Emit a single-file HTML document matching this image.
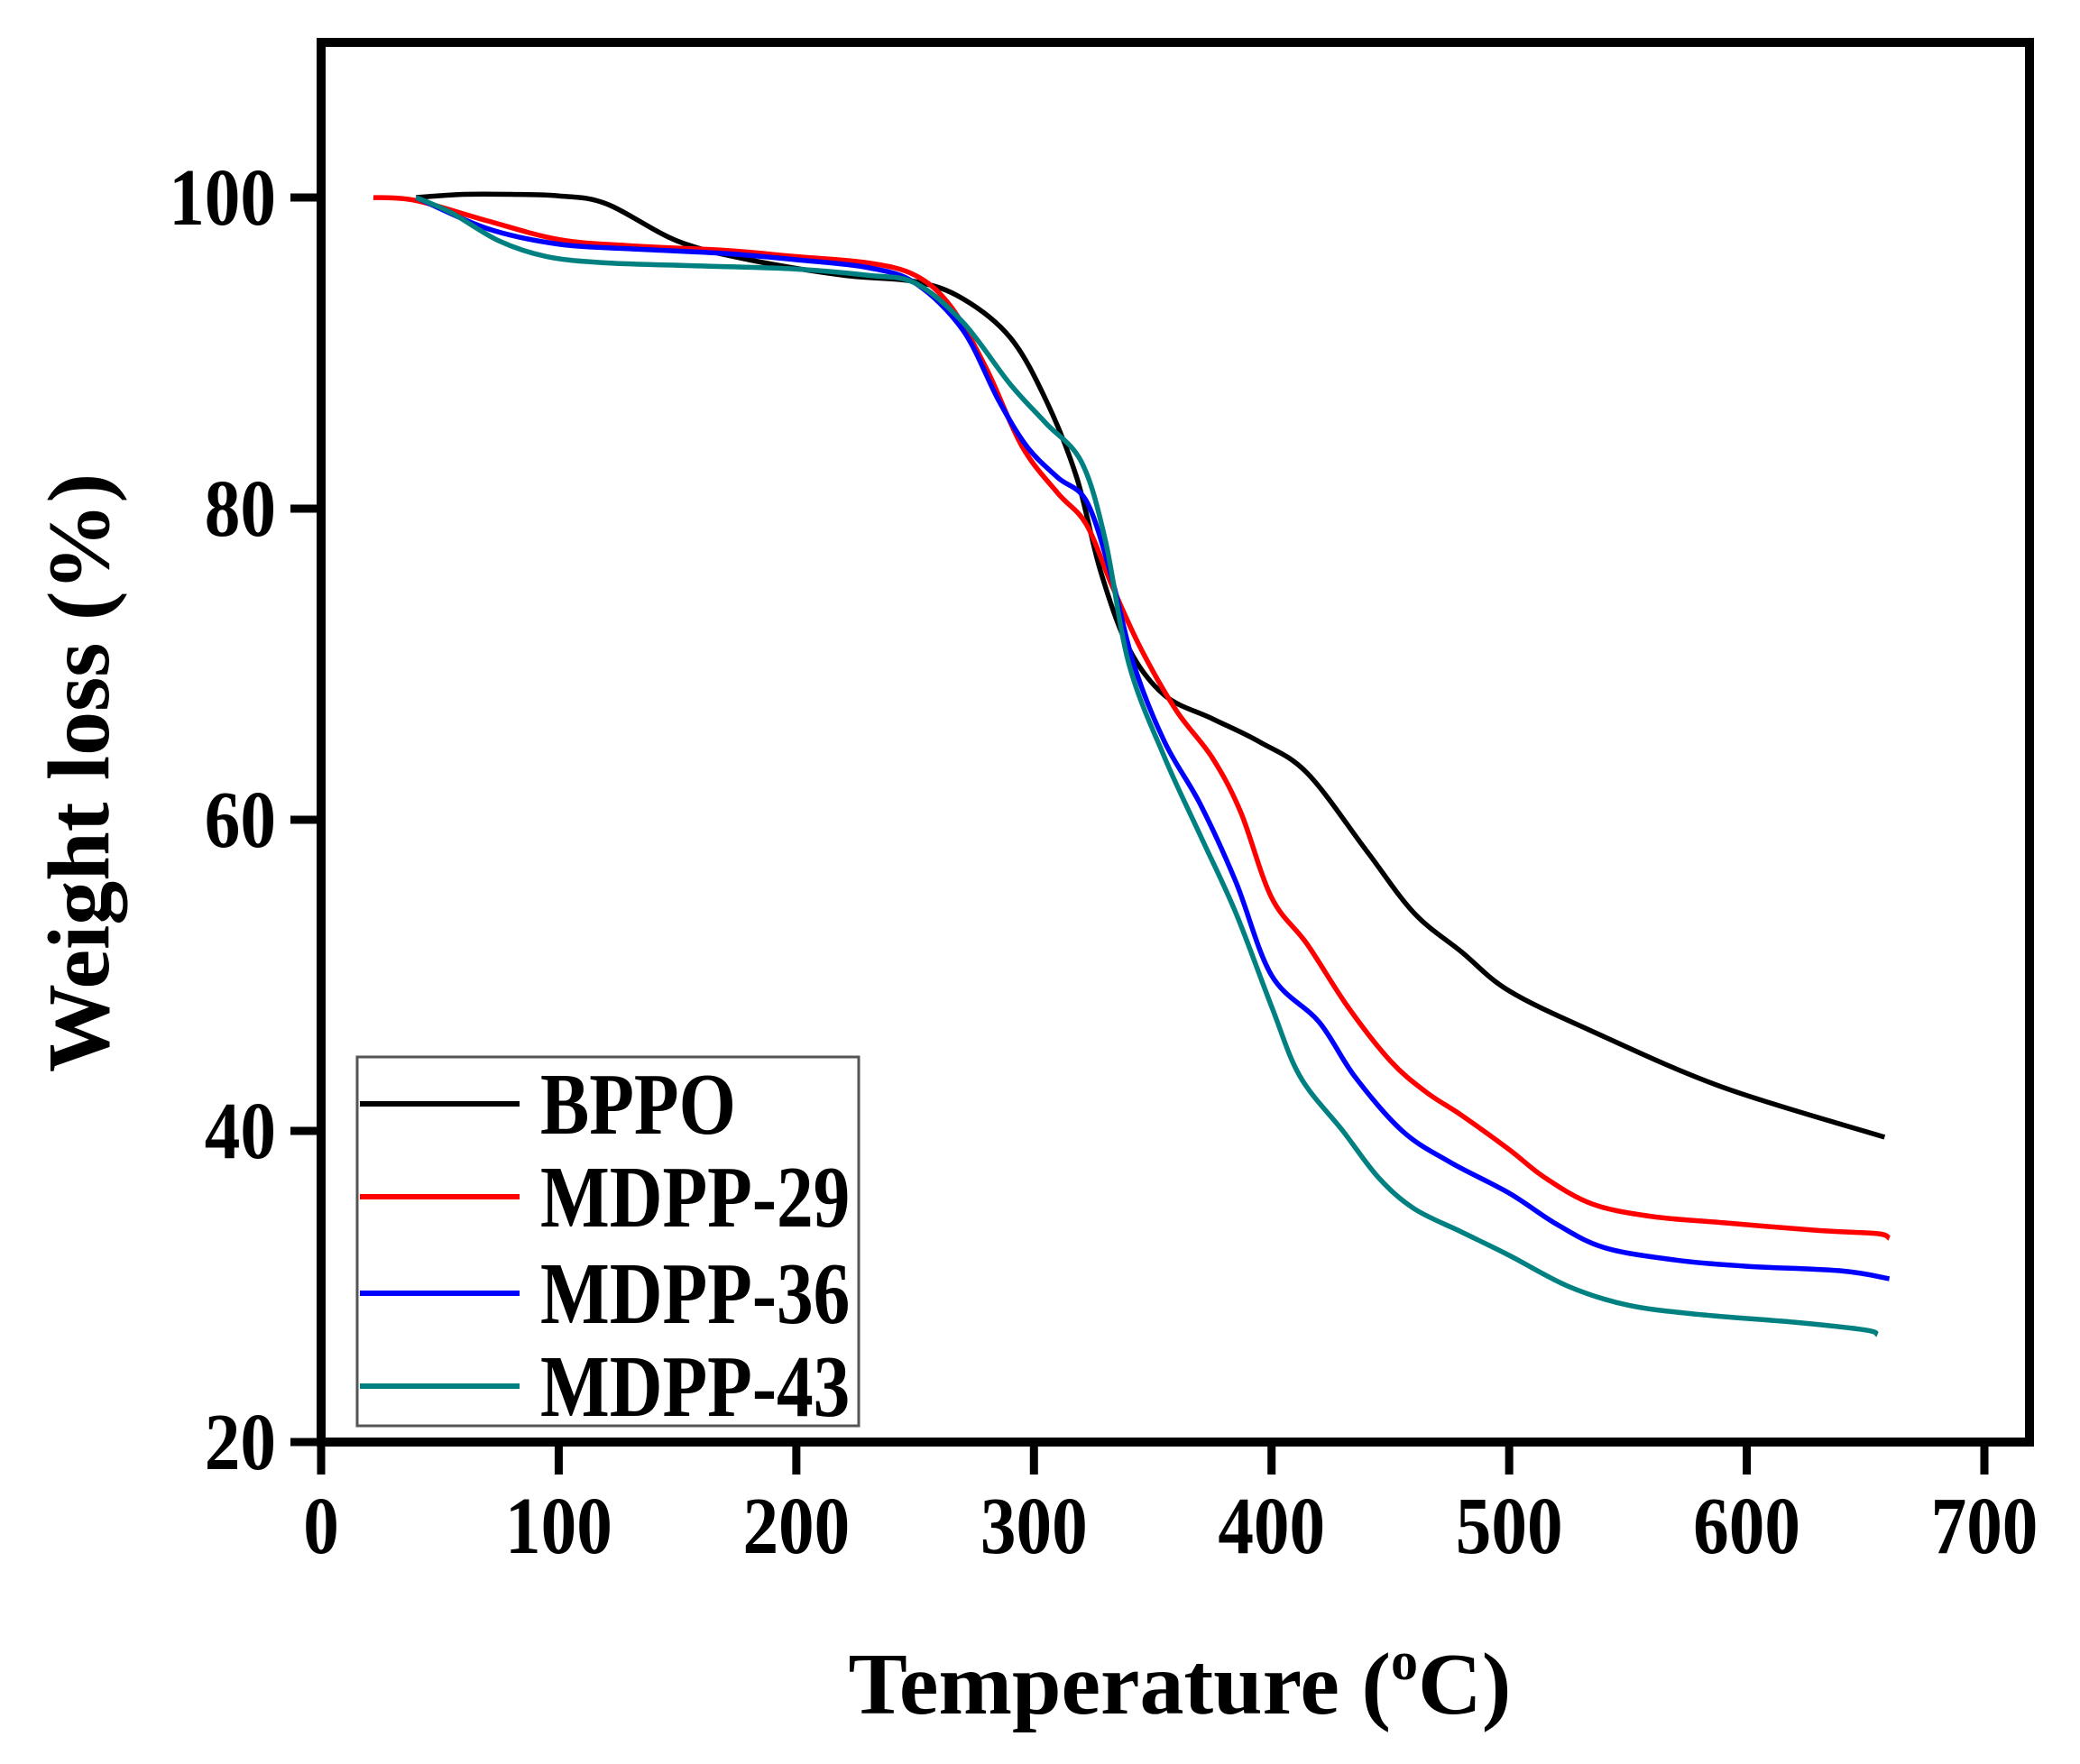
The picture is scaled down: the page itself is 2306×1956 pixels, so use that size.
<!DOCTYPE html>
<html><head><meta charset="utf-8"><style>
html,body{margin:0;padding:0;background:#fff;}
svg text{font-family:"Liberation Serif",serif;font-weight:bold;fill:#000;}
</style></head><body>
<svg id="chart" width="2306" height="1951" viewBox="0 0 2306 1951" xmlns="http://www.w3.org/2000/svg">
<g id="series"></g>
<g id="axes"></g>
</svg>
<script>
const xTicks=[0,100,200,300,400,500,600,700];
const yTicks=[20,40,60,80,100];
const seriesNames=["BPPO","MDPP-29","MDPP-36","MDPP-43"];
const seriesColors=["#000000","#ff0000","#0000ff","#008080"];
const bppoX=[40,60,80,100,120,150,180,220,250,270,290,305,318,328,340,355,375,395,415,440,460,480,500,535,590,658];
const bppoY=[100,100.2,100.2,100.1,99.6,97.2,96,95,94.6,93.5,91,87,82,76,71,68,66.5,65,63,58,54,51.5,49,46.4,42.8,39.6];
const m29X=[22,40,70,100,130,170,200,230,250,265,280,295,310,322,333,345,360,375,387,400,415,432,450,465,480,500,515,535,560,590,630,655,660];
const m29Y=[100,99.8,98.5,97.3,96.9,96.6,96.2,95.8,95,93,89,84,81,79,75,71,67,64,60.5,55,52,48,44.5,42.5,41,38.8,37,35.3,34.5,34.1,33.6,33.4,33.1];
const m36X=[40,70,100,130,170,200,230,250,270,285,297,310,322,332,342,355,370,385,400,420,435,455,475,500,520,540,570,600,640,660];
const m36Y=[100,98,97,96.7,96.4,96,95.5,94.5,91.5,87,84,82,80.5,76,70,65,61,56,50,47,43.5,40,38,36,34,32.5,31.7,31.3,31,30.5];
const m43X=[40,55,75,95,120,160,200,230,250,270,290,305,320,330,340,355,370,385,400,412,430,445,460,480,500,525,550,580,620,650,655];
const m43Y=[100,99,97.2,96.2,95.8,95.6,95.4,95,94.5,92,88,85.5,83,78,70,64,59,54,48,43.5,40,37,35,33.5,32,30,28.8,28.2,27.7,27.2,26.9];
const seriesX=[bppoX,m29X,m36X,m43X];
const seriesY=[bppoY,m29Y,m36Y,m43Y];

const L=356,R=2250,T=47,B=1599;
const xs=v=>L+(v-0)*1844/700;
const ys=v=>B-(v-20)*(1599-219)/80;
const NS="http://www.w3.org/2000/svg";
function mk(tag,attrs,parent){const e=document.createElementNS(NS,tag);for(const k in attrs)e.setAttribute(k,attrs[k]);parent.appendChild(e);return e;}
const sg=document.getElementById('series'),ag=document.getElementById('axes');

function smoothPath(px,py){
  let d="M"+px[0]+","+py[0];
  for(let i=0;i<px.length-1;i++){
    const x0=px[Math.max(i-1,0)],y0=py[Math.max(i-1,0)];
    const x1=px[i],y1=py[i],x2=px[i+1],y2=py[i+1];
    const x3=px[Math.min(i+2,px.length-1)],y3=py[Math.min(i+2,px.length-1)];
    d+=" C"+(x1+(x2-x0)/6)+","+(y1+(y2-y0)/6)+" "+(x2-(x3-x1)/6)+","+(y2-(y3-y1)/6)+" "+x2+","+y2;
  }
  return d;
}
for(let s=0;s<4;s++){
  const p=mk('path',{d:smoothPath(seriesX[s].map(xs),seriesY[s].map(ys)),fill:'none',stroke:seriesColors[s],'stroke-width':5.5,'stroke-linejoin':'round'},sg);
  
  
}
const fr=mk('rect',{x:L,y:T,width:R-L,height:B-T,fill:'none',stroke:'#000','stroke-width':10},ag);


xTicks.forEach(v=>{
  const t=mk('line',{x1:xs(v),x2:xs(v),y1:B,y2:B+36,stroke:'#000','stroke-width':9},ag);
  
  
  const tx=mk('text',{'text-anchor':'middle','font-size':90,transform:'translate('+xs(v)+',1722) scale(0.88,1)'},ag);
  tx.textContent=v;
  
  
});
yTicks.forEach(v=>{
  const t=mk('line',{x1:L-34,x2:L,y1:ys(v),y2:ys(v),stroke:'#000','stroke-width':9},ag);
  
  
  const tx=mk('text',{'text-anchor':'end','font-size':90,transform:'translate(306,'+(ys(v)+30)+') scale(0.88,1)'},ag);
  tx.textContent=v;
  
  
});
const xt=mk('text',{x:1308,y:1900,'text-anchor':'middle','font-size':98},ag);
xt.innerHTML='Temperature (<tspan dy="-38" font-size="60">o</tspan><tspan dy="38">C)</tspan>';


const yt=mk('text',{x:0,y:0,'text-anchor':'middle','font-size':98,transform:'translate(120,857) rotate(-90)'},ag);
yt.textContent='Weight loss (%)';


const lg=mk('g',{},ag);


mk('rect',{x:396,y:1172,width:556,height:409,fill:'#fff',stroke:'#555','stroke-width':3},lg);
const ly=[1224,1327,1434,1537];
for(let s=0;s<4;s++){
  const e=mk('g',{},lg);
  
  
  mk('line',{x1:399,x2:576,y1:ly[s],y2:ly[s],stroke:seriesColors[s],'stroke-width':6},e);
  const t=mk('text',{'font-size':98,transform:'translate(599,'+(ly[s]+33)+') scale(0.83,1)'},e);
  t.textContent=seriesNames[s];
}
</script>
</body></html>
